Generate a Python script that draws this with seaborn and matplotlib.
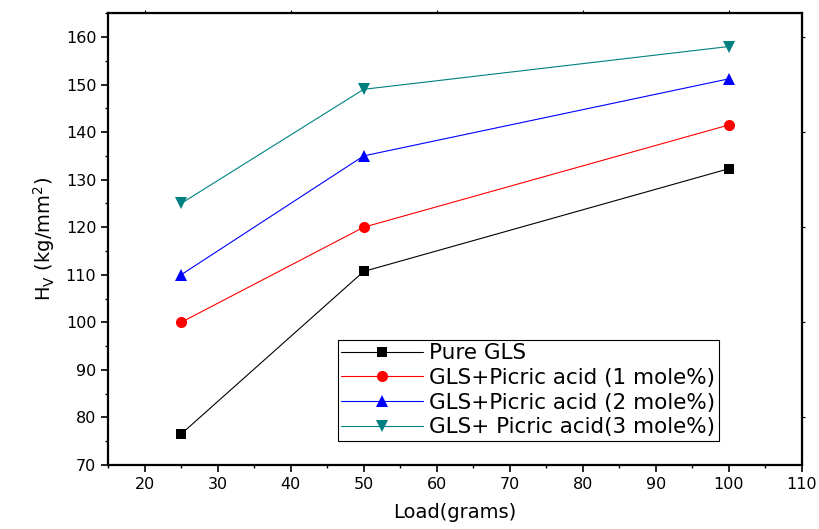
import numpy as np
import pandas as pd
import matplotlib
matplotlib.use("Agg")
import matplotlib.pyplot as plt
import seaborn as sns
from matplotlib.ticker import MultipleLocator

# data
load = [25, 50, 100]
pure_gls = [76.5, 110.7, 132.3]
picric_1 = [100.0, 120.0, 141.5]
picric_2 = [110.0, 135.0, 151.2]
picric_3 = [125.0, 149.0, 158.0]

series_names = ["Pure GLS",
                "GLS+Picric acid (1 mole%)",
                "GLS+Picric acid (2 mole%)",
                "GLS+ Picric acid(3 mole%)"]
series_vals = [pure_gls, picric_1, picric_2, picric_3]
colors = ["#000000", "#ff0000", "#0000ff", "#008080"]
markers = ["s", "o", "^", "v"]
msizes = [7, 8, 8.5, 8.5]

rows = []
for name, vals in zip(series_names, series_vals):
    for x, y in zip(load, vals):
        rows.append({"Load": x, "Hv": y, "series": name})
df = pd.DataFrame(rows)

sns.set_style("ticks")
plt.rcParams['font.family'] = ['DejaVu Sans']
plt.rcParams['text.color'] = 'black'
plt.rcParams['axes.labelcolor'] = 'black'
plt.rcParams['xtick.color'] = 'black'
plt.rcParams['ytick.color'] = 'black'

fig = plt.figure(figsize=(8.19, 5.29), dpi=100)
ax = fig.add_axes([0.132, 0.121, 0.847, 0.854])

for name, c, m, ms in zip(series_names, colors, markers, msizes):
    sub = df[df["series"] == name]
    sns.lineplot(data=sub, x="Load", y="Hv", ax=ax, color=c, marker=m,
                 markersize=ms, markeredgewidth=0, linewidth=0.8,
                 label=name, errorbar=None)

ax.set_xlim(15, 110)
ax.set_ylim(70, 165)
ax.xaxis.set_major_locator(MultipleLocator(10))
ax.yaxis.set_major_locator(MultipleLocator(10))
ax.yaxis.set_minor_locator(MultipleLocator(5))
ax.xaxis.set_minor_locator(MultipleLocator(5))
ax.tick_params(which="major", direction="out", length=5, width=1.2,
               labelsize=11.5)
ax.tick_params(which="minor", direction="out", length=2.5, width=1)
# short ticks on the top/right spines
ax.secondary_xaxis("top").tick_params(length=2, labeltop=False)
ax.secondary_yaxis("right").tick_params(length=2, labelright=False)
for s in ax.spines.values():
    s.set_linewidth(1.6)
    s.set_color("black")

ax.set_xlabel("Load(grams)", fontsize=14, labelpad=8)
ax.set_ylabel("H$_\\mathregular{V}$ (kg/mm$^\\mathregular{2}$)", fontsize=14, labelpad=6)

leg = ax.legend(loc="lower left", bbox_to_anchor=(0.331, 0.054), fontsize=15.5,
                frameon=True, fancybox=False, framealpha=1, edgecolor="black",
                handlelength=3.8, borderpad=0.15, labelspacing=0.22,
                handletextpad=0.3, borderaxespad=0)
leg.get_frame().set_linewidth(0.8)

fig.savefig("out.png", dpi=100)
